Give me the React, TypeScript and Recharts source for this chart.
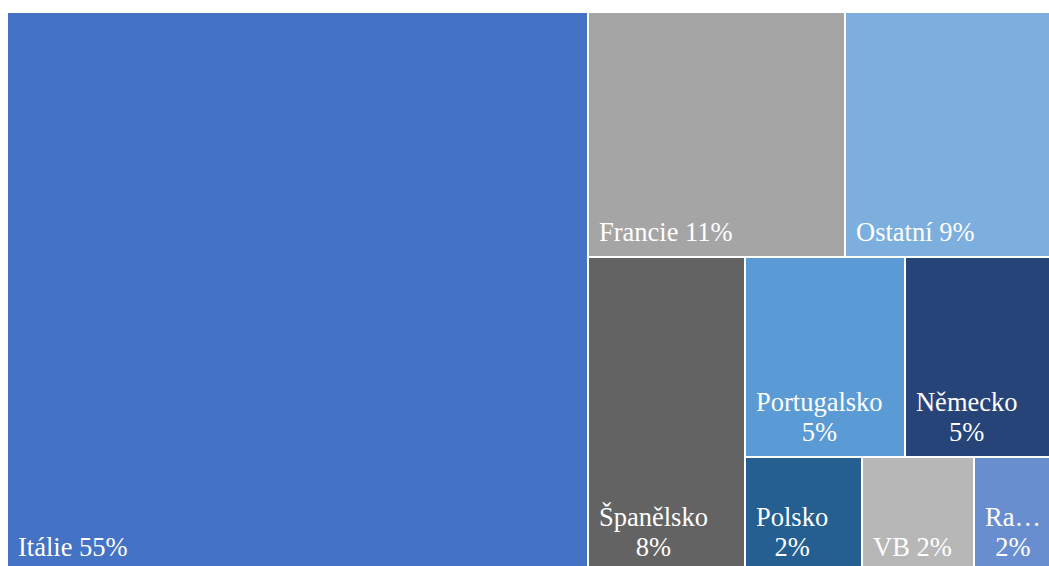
import { Treemap } from "recharts";

const countries = ["Itálie", "Francie", "Ostatní", "Španělsko", "Portugalsko", "Německo", "Polsko", "VB", "Rakousko"];
const shares = [55.8, 10.8, 8.7, 8.5, 5.5, 5.0, 2.3, 2.2, 1.5];
const shareLabels = ["55%", "11%", "9%", "8%", "5%", "5%", "2%", "2%", "2%"];
const colors = ["#4472C4", "#A5A5A5", "#7CAFDD", "#636363", "#5B9BD5", "#264478", "#255E91", "#B7B7B7", "#698ED0"];

const data = countries.map((name, i) => ({
  name,
  value: shares[i],
  pct: shareLabels[i],
  color: colors[i],
}));

const FONT_SIZE = 26.5;
const FONT_FAMILY = '"Liberation Serif", "Times New Roman", Tinos, "DejaVu Serif", serif';
const PAD = 11;
const LINE = 30;

let ctx: CanvasRenderingContext2D | null = null;
function textWidth(s: string) {
  if (!ctx) ctx = document.createElement("canvas").getContext("2d");
  if (!ctx) return s.length * FONT_SIZE * 0.5;
  ctx.font = `${FONT_SIZE}px ${FONT_FAMILY}`;
  return ctx.measureText(s).width;
}

function fitName(name: string, max: number) {
  if (textWidth(name) <= max) return name;
  let s = name;
  while (s.length > 1 && textWidth(s + "…") > max) s = s.slice(0, -1);
  return s + "…";
}

function Tile(props: any) {
  const { x, y, width, height, depth, name, pct, color } = props;
  if (depth !== 1) return null;
  const room = width - PAD - 4;
  const bottom = y + height - 16;
  const full = `${name} ${pct}`;
  let label;
  if (textWidth(full) <= room) {
    label = (
      <text x={x + PAD} y={bottom} fontFamily={FONT_FAMILY} fontSize={FONT_SIZE} fill="#fff" stroke="none">
        {full}
      </text>
    );
  } else {
    const first = fitName(name, room);
    const w = Math.max(textWidth(first), textWidth(pct));
    const cx = x + PAD + w / 2;
    label = (
      <text textAnchor="middle" fontFamily={FONT_FAMILY} fontSize={FONT_SIZE} fill="#fff" stroke="none">
        <tspan x={cx} y={bottom - LINE}>{first}</tspan>
        <tspan x={cx} y={bottom}>{pct}</tspan>
      </text>
    );
  }
  return (
    <g>
      <rect x={x} y={y} width={width} height={height} fill={color} stroke="#fff" strokeWidth={2} />
      {label}
    </g>
  );
}

export default function App() {
  return (
    <div style={{ position: "fixed", left: 0, top: 0, width: 1049, height: 566, overflow: "hidden", background: "#fff" }}>
      <div style={{ position: "absolute", left: 7, top: 12 }}>
        <Treemap
          width={1045}
          height={560}
          data={data}
          dataKey="value"
          nameKey="name"
          aspectRatio={1}
          isAnimationActive={false}
          content={<Tile />}
        />
      </div>
    </div>
  );
}
